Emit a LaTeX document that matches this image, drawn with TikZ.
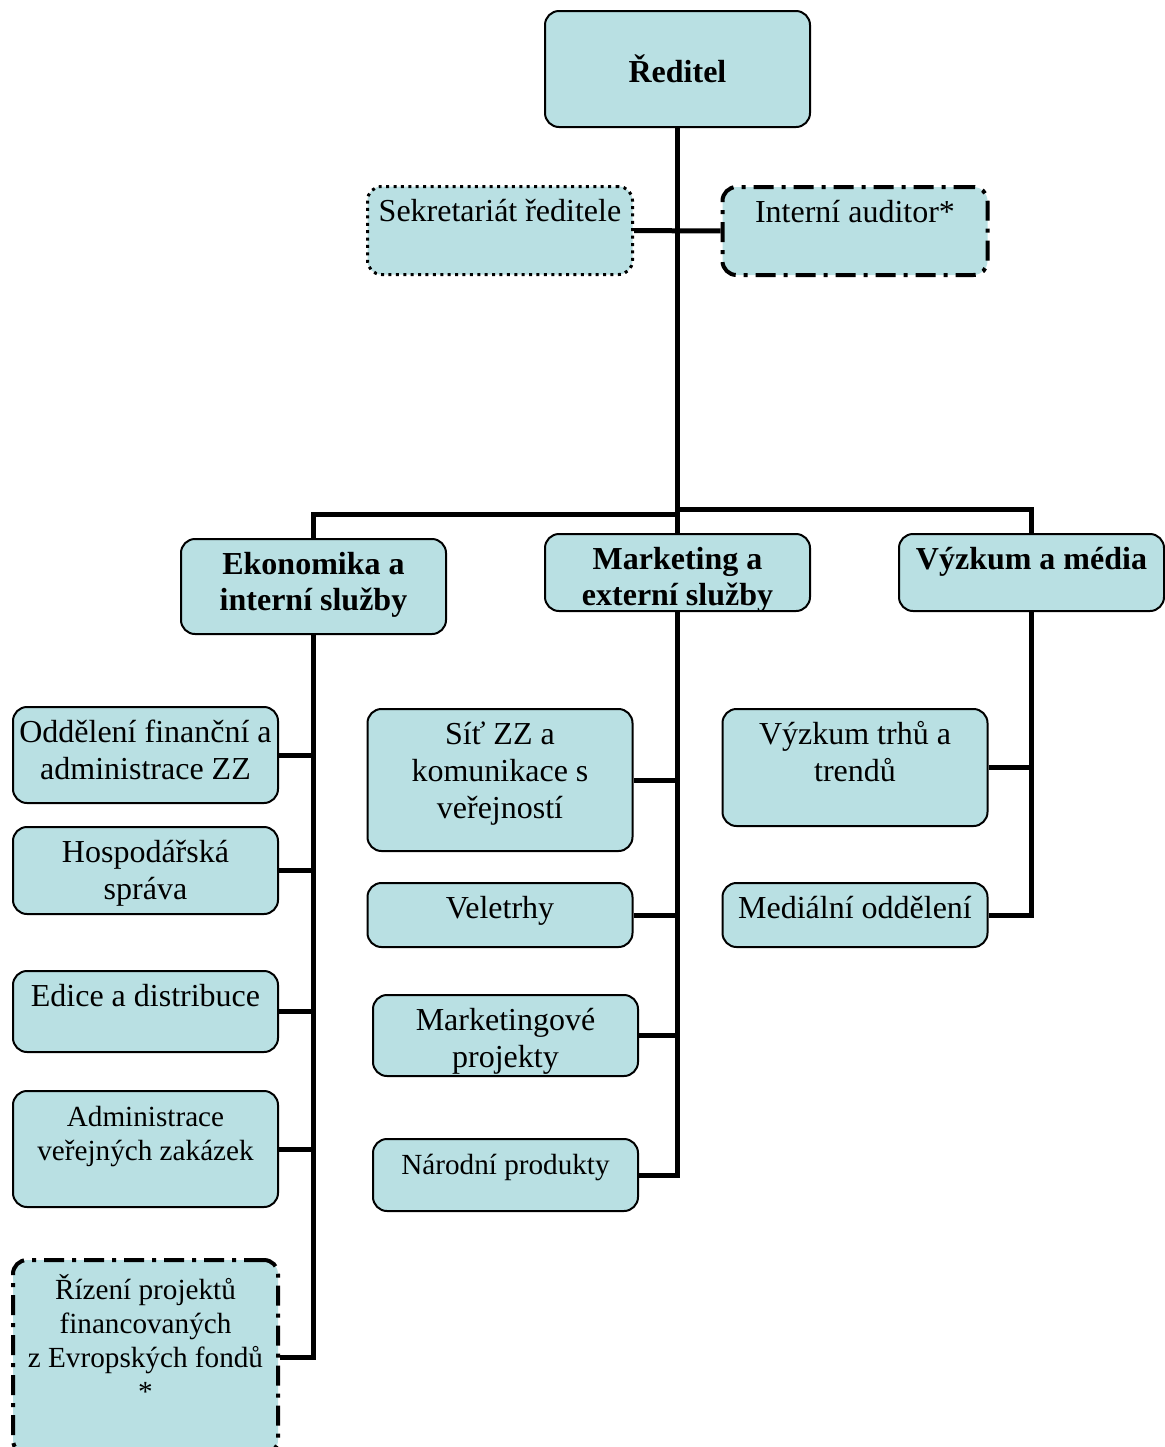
\documentclass[tikz,border=0pt]{standalone}
\usepackage{fontspec}
\setmainfont{Liberation Serif}
\usetikzlibrary{positioning}
\definecolor{boxfill}{RGB}{185,224,227}

\begin{document}
\begin{tikzpicture}[x=0.5pt,y=-0.5pt]
	\tikzset{unit/.style={draw,line width=1pt,rounded corners=7pt,fill=boxfill,anchor=north,
			inner xsep=1pt,inner ysep=4.5pt,text width=130.5pt,align=flush center,
			font=\fontsize{16}{18.5}\selectfont,text height=13pt,text depth=#1},
		smalltext/.style={font=\fontsize{14.6}{17}\selectfont},
		dept/.style={font=\fontsize{16}{18}\selectfont\bfseries},
		dotbox/.style={line width=1.5pt,dash pattern=on 1.5pt off 2.2pt},
		dashdot/.style={line width=2pt,dash pattern=on 10pt off 4pt on 2pt off 4pt},
		link/.style={line width=2.5pt}}
	\useasboundingbox (0,0) rectangle (1165,1447);
	\node[unit=18pt, dept, text height=31pt] (dir) at (677.5,10) {Ředitel};
	\node[unit=22pt, dotbox] (sekr) at (500,185) {Sekretariát ředitele};
	\node[unit=22pt, dashdot] (audit) at (855,185) {Interní auditor*};
	\node[unit=25.5pt, dept] (eko) at (313.5,538) {Ekonomika a\\ interní služby};
	\node[unit=16.5pt, dept] (mkt) at (677.5,533) {Marketing a\\ externí služby};
	\node[unit=16.5pt, dept] (vyz) at (1031.5,533) {Výzkum a média};
	\node[unit=26pt] (odd) at (145.5,706) {Oddělení finanční a\\ administrace ZZ};
	\node[unit=21.5pt] (hosp) at (145.5,826) {Hospodářská\\ správa};
	\node[unit=18.5pt] (edice) at (145.5,970) {Edice a distribuce};
	\node[unit=36pt, smalltext] (admin) at (145.5,1090) {Administrace\\ veřejných zakázek};
	\node[unit=73pt, smalltext, dashdot, text height=15pt] (rizeni) at (145.5,1258)
		{Řízení projektů\\ financovaných\\ z Evropských fondů\\ {*}};
	\node[unit=49pt] (sit) at (500,708) {Síť ZZ a\\ komunikace s\\ veřejností};
	\node[unit=10pt] (velet) at (500,882) {Veletrhy};
	\node[unit=18.5pt] (mktp) at (505.5,994) {Marketingové\\ projekty};
	\node[unit=14pt, smalltext] (narod) at (505.5,1138) {Národní produkty};
	\node[unit=36.5pt] (vtrh) at (855,708) {Výzkum trhů a\\ trendů};
	\node[unit=10pt] (medi) at (855,882) {Mediální oddělení};
	\coordinate (busL) at (677.5,514);
	\coordinate (busR) at (677.5,509);
	\draw[link] (dir) -- (mkt);
	\draw[link] (sekr) -- (audit);
	\draw[link] (busL) -| (eko);
	\draw[link] (busR) -| (vyz);
	\draw[link] (eko) |- (odd);
	\draw[link] (eko) |- (hosp);
	\draw[link] (eko) |- (edice);
	\draw[link] (eko) |- (admin);
	\draw[link] (eko) |- (rizeni);
	\draw[link] (mkt) |- (sit);
	\draw[link] (mkt) |- (velet);
	\draw[link] (mkt) |- (mktp);
	\draw[link] (mkt) |- (narod);
	\draw[link] (vyz) |- (vtrh);
	\draw[link] (vyz) |- (medi);
\end{tikzpicture}
\end{document}
